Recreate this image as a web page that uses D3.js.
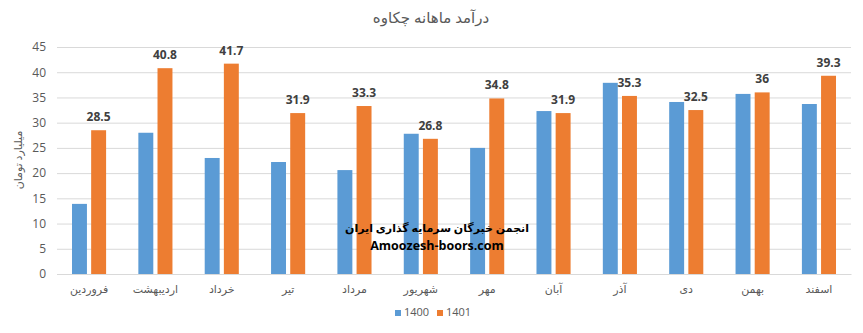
<!DOCTYPE html>
<html>
<head>
<meta charset="utf-8">
<script src="https://cdn.jsdelivr.net/npm/d3@7"></script>
<style>
  body { margin: 0; background: #fff; }
  text { font-family: "Open Sans", "DejaVu Sans", sans-serif; }
</style>
</head>
<body>
<div id="chart"></div>
<script>
// داده‌ها
const months = ["فروردین", "اردیبهشت", "خرداد", "تیر", "مرداد", "شهریور", "مهر", "آبان", "آذر", "دی", "بهمن", "اسفند"];
const seriesNames = ["1400", "1401"];
const values1400 = [13.9, 28.0, 23.0, 22.2, 20.6, 27.8, 25.0, 32.3, 37.9, 34.1, 35.7, 33.7];
const values1401 = [28.5, 40.8, 41.7, 31.9, 33.3, 26.8, 34.8, 31.9, 35.3, 32.5, 36, 39.3];
const yTicks = [0, 5, 10, 15, 20, 25, 30, 35, 40, 45];

const fullWidth = 863, fullHeight = 333;
const margin = { top: 47, right: 12, bottom: 59, left: 57 };
const width = fullWidth - margin.left - margin.right;
const height = fullHeight - margin.top - margin.bottom;
const colors = ["#5B9BD5", "#ED7D31"];

const data = months.map((m, i) => ({ month: m, v: [values1400[i], values1401[i]] }));

const svg = d3.select("#chart").append("svg")
    .attr("width", fullWidth)
    .attr("height", fullHeight);

// عنوان
svg.append("text")
    .attr("x", 431)
    .attr("y", 23)
    .attr("text-anchor", "middle")
    .style("font-size", "15px")
    .style("fill", "#595959")
    .text("درآمد ماهانه چکاوه");

const g = svg.append("g").attr("transform", `translate(${margin.left},${margin.top})`);

const x = d3.scaleBand().domain(months).range([0, width]).paddingInner(0.486).paddingOuter(0.226);
const xs = d3.scaleBand().domain(seriesNames).range([0, x.bandwidth()]).paddingInner(0.22);
const y = d3.scaleLinear().domain([0, 45]).range([height, 0]);

// خطوط شبکه
g.append("g")
    .call(d3.axisLeft(y).tickValues(yTicks).tickSize(-width).tickFormat(""))
    .call(a => a.select(".domain").remove())
    .selectAll("line")
    .style("stroke", "#D9D9D9");

// محور Y
g.append("g")
    .call(d3.axisLeft(y).tickValues(yTicks).tickSize(0).tickPadding(11))
    .call(a => a.select(".domain").remove())
    .selectAll("text")
    .style("font-size", "12px")
    .style("fill", "#595959");

// محور X
g.append("g")
    .attr("transform", `translate(0,${height})`)
    .call(d3.axisBottom(x).tickSize(0).tickPadding(11))
    .call(a => a.select(".domain").style("stroke", "#D9D9D9"))
    .selectAll("text")
    .style("font-size", "11px")
    .style("fill", "#595959");

// عنوان محور Y
svg.append("text")
    .attr("transform", "translate(22,160) rotate(-90)")
    .attr("text-anchor", "middle")
    .style("font-size", "11px")
    .style("fill", "#595959")
    .text("میلیارد تومان");

// ستون‌ها
const groups = g.selectAll(".grp").data(data).enter().append("g")
    .attr("transform", d => `translate(${x(d.month)},0)`);

groups.selectAll("rect")
    .data(d => d.v.map((val, j) => ({ s: seriesNames[j], val, j })))
    .enter().append("rect")
    .attr("x", d => xs(d.s))
    .attr("y", d => y(d.val))
    .attr("width", xs.bandwidth())
    .attr("height", d => height - y(d.val))
    .attr("fill", d => colors[d.j]);

// برچسب مقادیر 1401
groups.append("text")
    .attr("x", xs("1401") + xs.bandwidth() / 2)
    .attr("y", d => y(d.v[1]) - 9)
    .attr("text-anchor", "middle")
    .style("font-size", "12px")
    .style("font-weight", "bold")
    .style("fill", "#404040")
    .text(d => d.v[1]);

// واترمارک
svg.append("text")
    .attr("x", 437)
    .attr("y", 232)
    .attr("text-anchor", "middle")
    .style("font-size", "11px")
    .style("font-weight", "bold")
    .style("fill", "#000")
    .text("انجمن خبرگان سرمایه گذاری ایران");
svg.append("text")
    .attr("x", 437)
    .attr("y", 250)
    .attr("text-anchor", "middle")
    .style("font-size", "12.5px")
    .style("font-weight", "bold")
    .style("fill", "#000")
    .text("Amoozesh-boors.com");

// راهنما
const legend = svg.append("g").attr("transform", "translate(395,310)");
const li = legend.selectAll("g").data(seriesNames).enter().append("g")
    .attr("transform", (d, i) => `translate(${i * 42},0)`);
li.append("rect").attr("width", 6).attr("height", 6).attr("fill", (d, i) => colors[i]);
li.append("text")
    .attr("x", 9).attr("y", 6)
    .style("font-size", "11px")
    .style("fill", "#595959")
    .text(d => d);
</script>
</body>
</html>
